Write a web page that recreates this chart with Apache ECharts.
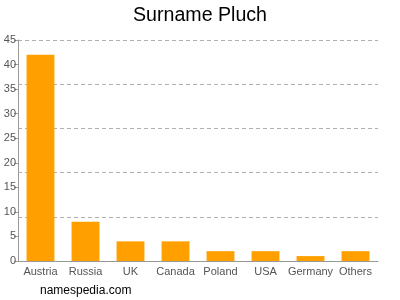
<!DOCTYPE html>
<html><head><meta charset="utf-8">
<script src="https://cdn.jsdelivr.net/npm/echarts@6/dist/echarts.min.js"></script>
<style>html,body{margin:0;padding:0;background:#fff}#c{width:400px;height:300px}</style>
</head><body><div id="c"></div>
<script>
var categories = ["Austria","Russia","UK","Canada","Poland","USA","Germany","Others"];
var counts = [42, 8, 4, 4, 2, 2, 1, 2];
var yTicks = [0,5,10,15,20,25,30,35,40,45];
var gridLines = [9,18,27,36,45];

var chart = echarts.init(document.getElementById('c'), null, {renderer:'canvas'});
var font = 'Liberation Sans, Arial, sans-serif';
chart.setOption({
  animation:false,
  title:{text:'Surname Pluch', left:'center', top:1, textStyle:{fontFamily:font, fontSize:19.6, fontWeight:'normal', color:'#000'}},
  graphic:[{type:'text', left:40, top:285, style:{text:'namespedia.com', font:'12px '+font, fill:'#000'}}],
  grid:{left:18, right:22, top:40, bottom:39, containLabel:false},
  xAxis:{type:'category', data:categories,
    axisLine:{lineStyle:{color:'#999'}},
    axisTick:{alignWithLabel:true, length:4, lineStyle:{color:'#999'}},
    axisLabel:{fontFamily:font, fontSize:11, color:'#555', margin:5, interval:0}},
  yAxis:[
    {type:'value', min:0, max:45, interval:5,
      axisLine:{show:true, lineStyle:{color:'#999'}},
      axisTick:{show:true, length:4, lineStyle:{color:'#999'}},
      axisLabel:{fontFamily:font, fontSize:11, color:'#555', margin:2},
      splitLine:{show:false}},
    {type:'value', min:0, max:45, interval:9, position:'left',
      axisLine:{show:false}, axisTick:{show:false}, axisLabel:{show:false},
      splitLine:{show:true, lineStyle:{color:'#b0b0b0', type:[4,3], width:1}}}
  ],
  series:[{type:'bar', data:counts, barWidth:'62%', itemStyle:{color:'#ffa000'}, yAxisIndex:0}]
});
</script></body></html>
